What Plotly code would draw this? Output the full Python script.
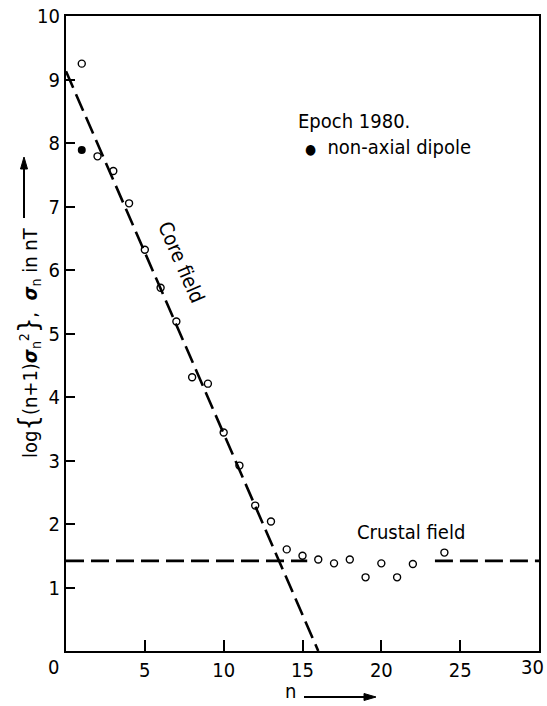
import math
import plotly.graph_objects as go

# Degree variance spectrum, epoch 1980
n_deg = [1, 2, 3, 4, 5, 6, 7, 8, 9, 10, 11, 12, 13, 14, 15, 16, 17, 18, 19, 20, 21, 22, 24]
log_power = [9.25, 7.79, 7.56, 7.05, 6.32, 5.72, 5.19, 4.31, 4.21, 3.44, 2.92, 2.29, 2.04,
             1.60, 1.50, 1.44, 1.38, 1.44, 1.16, 1.38, 1.16, 1.37, 1.55]

# Non-axial dipole term
n_dipole = [1]
log_dipole = [7.89]

# Fitted core-field line and crustal-field level
core_n = [0, 16]
core_val = [9.13, 0]
crust_n = [0, 15.3, None, 23.4, 30]
crust_val = [1.42, 1.42, None, 1.42, 1.42]

x_ticks = [5, 10, 15, 20, 25, 30]
x_ticktext = ["5", "10", "15", "20", "25", "30"]
y_ticks = [1, 2, 3, 4, 5, 6, 7, 8, 9, 10]
y_ticktext = [str(v) for v in y_ticks]

FONT = "DejaVu Sans Condensed, Liberation Sans Narrow, sans-serif"
DASH = "18px,7px"

fig = go.Figure()
fig.add_trace(go.Scatter(x=core_n, y=core_val, mode="lines",
                         line=dict(color="black", width=2.6, dash=DASH), hoverinfo="skip"))
fig.add_trace(go.Scatter(x=crust_n, y=crust_val, mode="lines", connectgaps=False,
                         line=dict(color="black", width=2.6, dash=DASH), hoverinfo="skip"))
fig.add_trace(go.Scatter(x=n_deg, y=log_power, mode="markers",
                         marker=dict(symbol="circle-open", size=7, color="black",
                                     line=dict(width=1.4, color="black"))))
fig.add_trace(go.Scatter(x=n_dipole, y=log_dipole, mode="markers",
                         marker=dict(symbol="circle", size=8, color="black")))

W, H = 547, 706
L, R, T, B = 66, 8, 16, 55
pw, ph = W - L - R, H - T - B


def px(xp):
    return (xp - L) / pw


def py(yp):
    return (H - B - yp) / ph


def label(xp, yp, text, **kw):
    d = dict(x=px(xp), y=py(yp), xref="paper", yref="paper", text=text, showarrow=False,
             xanchor="center", yanchor="middle")
    d.update(kw)
    return d


annotations = [
    label(53, 667, "0"),
    # last x label sits against the right edge of the page
    label(546, 667, x_ticktext[-1], xanchor="right"),
    label(28, 343,
          "log<span style='font-size:27px'>{</span>(n+1)<b><i>σ</i></b><sub>n</sub><sup>2</sup>"
          "<span style='font-size:27px'>}</span>,  <b><i>σ</i></b><sub>n</sub> in nT",
          textangle=-90, font=dict(size=20)),
    label(290, 691, "n"),
    dict(x=14.57, y=8.34, text="Epoch 1980.", xanchor="left", yanchor="middle",
         showarrow=False),
    dict(x=15.0, y=7.93, xanchor="left", yanchor="middle", showarrow=False,
         text="<span style='font-size:14px'>●</span>  non-axial dipole"),
    dict(x=21.87, y=1.88, text="Crustal field", showarrow=False, yanchor="middle"),
    dict(x=7.3, y=6.12, text="Core field", textangle=66.4, showarrow=False,
         xanchor="center", yanchor="middle"),
]


def arrow(x0, y0, x1, y1):
    # shaft plus filled head, in pixel positions of the page
    ang = math.atan2(y1 - y0, x1 - x0)
    hl, hw = 12, 3.5
    bx, by = x1 - hl * math.cos(ang), y1 - hl * math.sin(ang)
    nx, ny = -math.sin(ang) * hw, math.cos(ang) * hw
    shaft = dict(type="line", xref="paper", yref="paper",
                 x0=px(x0), y0=py(y0), x1=px(bx), y1=py(by),
                 line=dict(color="black", width=2))
    head = dict(type="path", xref="paper", yref="paper", fillcolor="black",
                line=dict(color="black", width=1),
                path=f"M {px(x1)} {py(y1)} L {px(bx + nx)} {py(by + ny)} "
                     f"L {px(bx - nx)} {py(by - ny)} Z")
    return [shaft, head]


shapes = arrow(24, 218, 24, 157) + arrow(304, 697, 376, 697)

fig.update_layout(
    width=W, height=H,
    margin=dict(l=L, r=R, t=T, b=B, autoexpand=False),
    paper_bgcolor="white", plot_bgcolor="white",
    showlegend=False,
    font=dict(family=FONT, color="black", size=20),
    annotations=annotations,
    shapes=shapes,
)
fig.update_xaxes(range=[0, 30], tickvals=x_ticks, ticktext=x_ticktext[:-1] + [""],
                 ticks="inside", ticklen=11, tickwidth=1.8, tickcolor="black",
                 automargin=False,
                 showgrid=False, zeroline=False, showline=True, linewidth=2,
                 linecolor="black", mirror=True, tickfont=dict(size=20))
fig.update_yaxes(range=[0, 10], tickvals=y_ticks, ticktext=y_ticktext,
                 ticks="inside", ticklen=9, tickwidth=1.8, tickcolor="black",
                 automargin=False,
                 showgrid=False, zeroline=False, showline=True, linewidth=2,
                 linecolor="black", mirror=True, tickfont=dict(size=20))

fig.write_html("out.html")
